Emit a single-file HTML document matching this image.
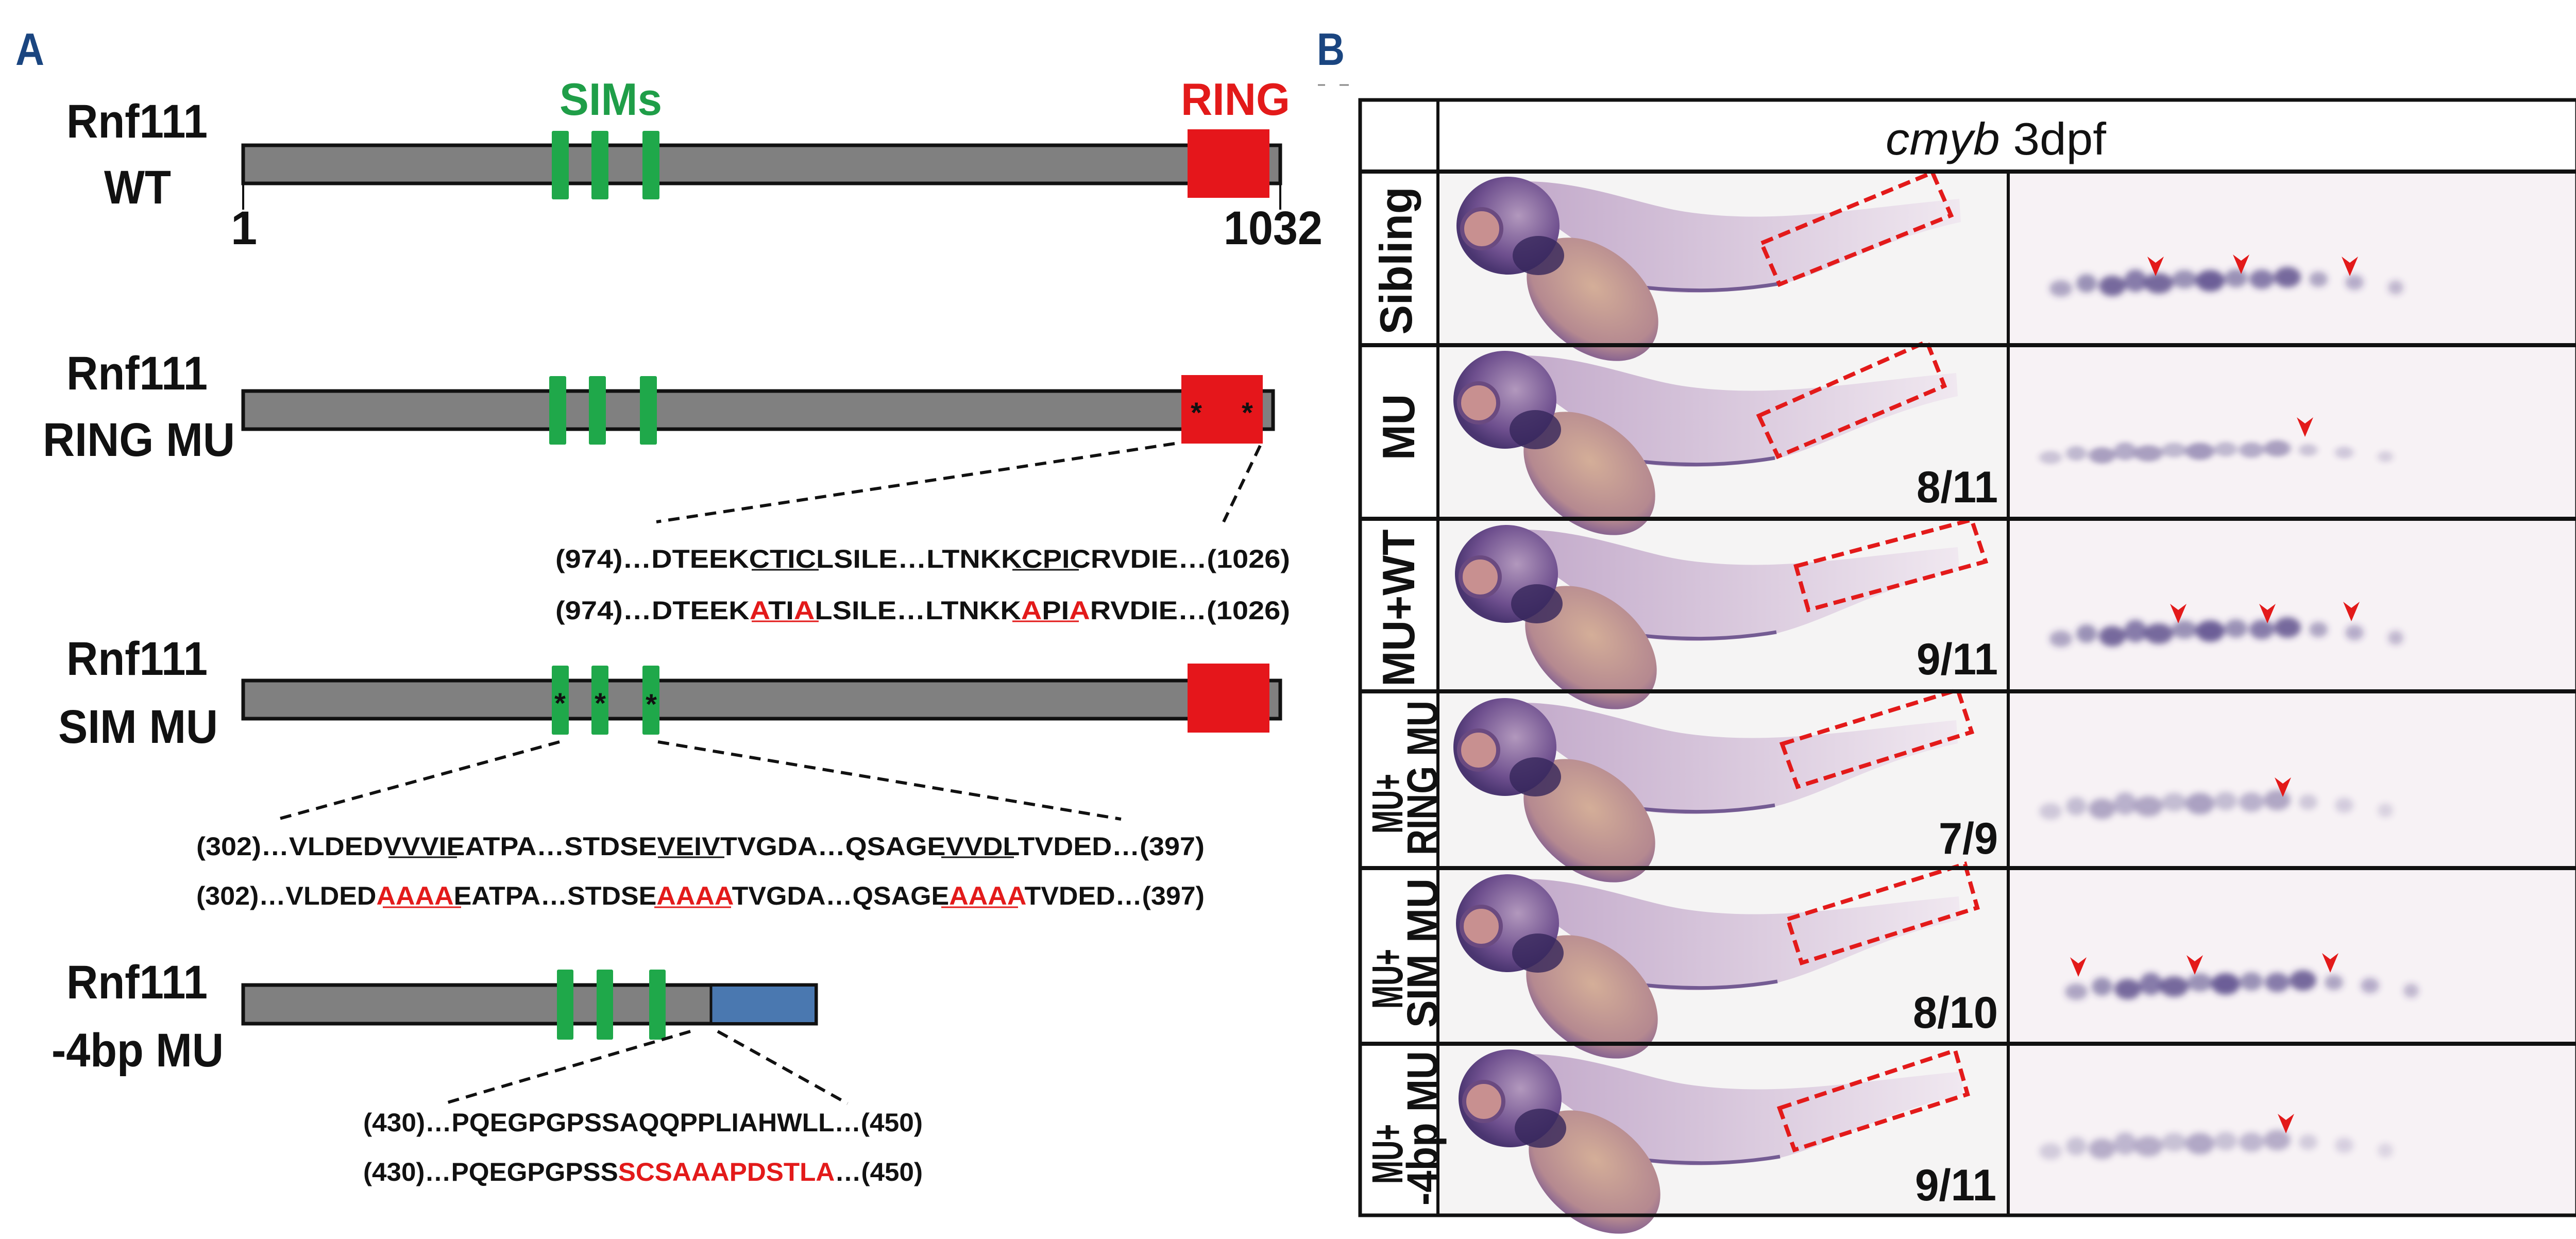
<!DOCTYPE html>
<html><head><meta charset="utf-8"><style>
html,body{margin:0;padding:0;background:#fff}
svg{display:block}
.b{font-family:"Liberation Sans",sans-serif;font-weight:bold}
.s{font-family:"Liberation Sans",sans-serif;font-size:50px;fill:#111;font-weight:bold}
</style></head><body>
<svg width="5037" height="2405" viewBox="0 0 5037 2405" xmlns="http://www.w3.org/2000/svg">
<defs>
<radialGradient id="hg" cx="0.6" cy="0.4" r="0.6"><stop offset="0" stop-color="#b298bd"/><stop offset="0.7" stop-color="#6e4f8e"/><stop offset="1" stop-color="#4a3570"/></radialGradient>
<radialGradient id="yg" cx="0.45" cy="0.4" r="0.6"><stop offset="0" stop-color="#d4ae98"/><stop offset="0.8" stop-color="#b58990"/><stop offset="1" stop-color="#8a6590"/></radialGradient>
<linearGradient id="bg" x1="0" y1="0" x2="1" y2="0"><stop offset="0" stop-color="#c0a6c8"/><stop offset="1" stop-color="#f0e8f0"/></linearGradient>
<filter id="bl" x="-20%" y="-50%" width="140%" height="200%"><feGaussianBlur stdDeviation="6"/></filter>
<g id="fish">
<path d="M110 20 C250 0 380 60 480 75 C650 100 800 70 1012 50 L1015 95 C850 130 750 200 640 222 C540 235 460 235 400 225 Z" fill="url(#bg)"/>
<path d="M400 222 C500 232 580 228 660 215" fill="none" stroke="#5a4080" stroke-width="7" opacity="0.8"/>
<ellipse cx="300" cy="245" rx="145" ry="98" transform="rotate(40 300 245)" fill="url(#yg)"/>
<ellipse cx="136" cy="102" rx="100" ry="95" fill="url(#hg)"/>
<ellipse cx="195" cy="160" rx="50" ry="38" fill="#35265a" opacity="0.8"/>
<circle cx="85" cy="108" r="38" fill="#c89090" stroke="#6a4a80" stroke-width="8"/>
</g>
<g id="dots" fill="#3e2f78" filter="url(#bl)">
<ellipse cx="40" cy="10" rx="22" ry="16" opacity=".4"/><ellipse cx="90" cy="0" rx="20" ry="18" opacity=".5"/>
<ellipse cx="140" cy="5" rx="26" ry="20" opacity=".7"/><ellipse cx="185" cy="-5" rx="22" ry="22" opacity=".6"/>
<ellipse cx="230" cy="0" rx="28" ry="20" opacity=".7"/><ellipse cx="280" cy="-8" rx="24" ry="18" opacity=".5"/>
<ellipse cx="330" cy="-5" rx="28" ry="21" opacity=".75"/><ellipse cx="380" cy="-10" rx="22" ry="18" opacity=".5"/>
<ellipse cx="430" cy="-8" rx="24" ry="19" opacity=".6"/><ellipse cx="480" cy="-12" rx="26" ry="20" opacity=".7"/>
<ellipse cx="540" cy="-8" rx="18" ry="15" opacity=".4"/><ellipse cx="610" cy="-2" rx="18" ry="15" opacity=".35"/>
<ellipse cx="690" cy="8" rx="15" ry="14" opacity=".3"/>
</g>
<path id="arr" d="M-16 -38 L0 -26 L16 -38 L0 0 Z" fill="#e31a1a"/>
</defs>

<!-- Panel A -->
<text x="30" y="126" class="b" font-size="88" fill="#1a4580" textLength="56" lengthAdjust="spacingAndGlyphs">A</text>
<text x="1086" y="223" class="b" font-size="88" fill="#1f9e48" textLength="199" lengthAdjust="spacingAndGlyphs">SIMs</text>
<text x="2292" y="223" class="b" font-size="88" fill="#e31a1a" textLength="212" lengthAdjust="spacingAndGlyphs">RING</text>

<g class="b" font-size="92" fill="#111">
<text x="129" y="267" textLength="274" lengthAdjust="spacingAndGlyphs">Rnf111</text>
<text x="202" y="395" textLength="130" lengthAdjust="spacingAndGlyphs">WT</text>
<text x="129" y="756" textLength="274" lengthAdjust="spacingAndGlyphs">Rnf111</text>
<text x="83" y="885" textLength="373" lengthAdjust="spacingAndGlyphs">RING MU</text>
<text x="129" y="1310" textLength="274" lengthAdjust="spacingAndGlyphs">Rnf111</text>
<text x="113" y="1442" textLength="310" lengthAdjust="spacingAndGlyphs">SIM MU</text>
<text x="129" y="1938" textLength="274" lengthAdjust="spacingAndGlyphs">Rnf111</text>
<text x="100" y="2070" textLength="334" lengthAdjust="spacingAndGlyphs">-4bp MU</text>
<text x="448" y="474">1</text>
<text x="2375" y="474" textLength="192" lengthAdjust="spacingAndGlyphs">1032</text>
</g>

<!-- WT -->
<line x1="472" y1="359" x2="472" y2="407" stroke="#111" stroke-width="4"/>
<line x1="2485" y1="359" x2="2485" y2="407" stroke="#111" stroke-width="4"/>
<rect x="472" y="282" width="2013" height="74" fill="#808080" stroke="#111" stroke-width="7"/>
<g fill="#1fa84a"><rect x="1071" y="254" width="33" height="133" rx="3"/><rect x="1148" y="254" width="33" height="133" rx="3"/><rect x="1247" y="254" width="33" height="133" rx="3"/></g>
<rect x="2305" y="251" width="159" height="133" fill="#e5161b"/>

<!-- RING MU -->
<rect x="472" y="759" width="1999" height="74" fill="#808080" stroke="#111" stroke-width="7"/>
<g fill="#1fa84a"><rect x="1066" y="730" width="33" height="133" rx="3"/><rect x="1143" y="730" width="33" height="133" rx="3"/><rect x="1242" y="730" width="33" height="133" rx="3"/></g>
<rect x="2293" y="728" width="158" height="133" fill="#e5161b"/>
<text x="2322" y="820" class="b" font-size="56" text-anchor="middle" fill="#111">*</text>
<text x="2421" y="820" class="b" font-size="56" text-anchor="middle" fill="#111">*</text>
<g stroke="#111" stroke-width="6" stroke-dasharray="22 14">
<line x1="2280" y1="861" x2="1274" y2="1013"/><line x1="2446" y1="865" x2="2375" y2="1013"/>
</g>
<text x="1078" y="1102" class="s" textLength="1426" lengthAdjust="spacingAndGlyphs">(974)…DTEEKCTICLSILE…LTNKKCPICRVDIE…(1026)</text>
<line x1="1459" y1="1106" x2="1589" y2="1106" stroke="#111" stroke-width="3"/>
<line x1="1965" y1="1106" x2="2094" y2="1106" stroke="#111" stroke-width="3"/>
<text x="1078" y="1202" class="s" textLength="1426" lengthAdjust="spacingAndGlyphs">(974)…DTEEK<tspan fill="#e31a1a">A</tspan>TI<tspan fill="#e31a1a">A</tspan>LSILE…LTNKK<tspan fill="#e31a1a">A</tspan>PI<tspan fill="#e31a1a">A</tspan>RVDIE…(1026)</text>
<line x1="1459" y1="1206" x2="1589" y2="1206" stroke="#e31a1a" stroke-width="3"/>
<line x1="1965" y1="1206" x2="2094" y2="1206" stroke="#e31a1a" stroke-width="3"/>

<!-- SIM MU -->
<rect x="472" y="1321" width="2013" height="74" fill="#808080" stroke="#111" stroke-width="7"/>
<g fill="#1fa84a"><rect x="1071" y="1292" width="33" height="134" rx="3"/><rect x="1148" y="1292" width="33" height="134" rx="3"/><rect x="1247" y="1292" width="33" height="134" rx="3"/></g>
<rect x="2305" y="1288" width="159" height="134" fill="#e5161b"/>
<g class="b" font-size="56" text-anchor="middle" fill="#111"><text x="1087" y="1384">*</text><text x="1165" y="1384">*</text><text x="1264" y="1386">*</text></g>
<g stroke="#111" stroke-width="6" stroke-dasharray="22 14">
<line x1="1086" y1="1440" x2="539" y2="1590"/><line x1="1277" y1="1440" x2="2176" y2="1590"/>
</g>
<text x="381" y="1660" class="s" textLength="1957" lengthAdjust="spacingAndGlyphs">(302)…VLDEDVVVIEATPA…STDSEVEIVTVGDA…QSAGEVVDLTVDED…(397)</text>
<g stroke="#111" stroke-width="3"><line x1="754" y1="1664" x2="887" y2="1664"/><line x1="1277" y1="1664" x2="1406" y2="1664"/><line x1="1827" y1="1664" x2="1968" y2="1664"/></g>
<text x="381" y="1756" class="s" textLength="1957" lengthAdjust="spacingAndGlyphs">(302)…VLDED<tspan fill="#e31a1a">AAAA</tspan>EATPA…STDSE<tspan fill="#e31a1a">AAAA</tspan>TVGDA…QSAGE<tspan fill="#e31a1a">AAAA</tspan>TVDED…(397)</text>
<g stroke="#e31a1a" stroke-width="3"><line x1="743" y1="1761" x2="895" y2="1761"/><line x1="1270" y1="1761" x2="1419" y2="1761"/><line x1="1827" y1="1761" x2="1976" y2="1761"/></g>

<!-- -4bp MU -->
<rect x="472" y="1912" width="1112" height="75" fill="#808080" stroke="#111" stroke-width="7"/>
<rect x="1380" y="1915" width="201" height="69" fill="#4a78b0"/>
<line x1="1380" y1="1912" x2="1380" y2="1987" stroke="#111" stroke-width="5"/>
<g fill="#1fa84a"><rect x="1081" y="1882" width="32" height="136" rx="3"/><rect x="1158" y="1882" width="32" height="136" rx="3"/><rect x="1260" y="1882" width="32" height="136" rx="3"/></g>
<g stroke="#111" stroke-width="6" stroke-dasharray="22 14">
<line x1="1340" y1="2002" x2="862" y2="2142"/><line x1="1393" y1="2002" x2="1645" y2="2142"/>
</g>
<text x="705" y="2196" class="s" textLength="1086" lengthAdjust="spacingAndGlyphs">(430)…PQEGPGPSSAQQPPLIAHWLL…(450)</text>
<text x="705" y="2292" class="s" textLength="1086" lengthAdjust="spacingAndGlyphs">(430)…PQEGPGPSS<tspan fill="#e31a1a">SCSAAAPDSTLA</tspan>…(450)</text>

<!-- Panel B -->
<text x="2556" y="126" class="b" font-size="88" fill="#1a4580" textLength="54" lengthAdjust="spacingAndGlyphs">B</text>
<line x1="2558" y1="165" x2="2572" y2="165" stroke="#888" stroke-width="3"/><line x1="2600" y1="165" x2="2618" y2="165" stroke="#888" stroke-width="3"/>

<!-- cell backgrounds -->
<rect x="2791" y="333" width="1107" height="2029" fill="#f5f4f4"/>
<rect x="3898" y="333" width="1107" height="2029" fill="#f7f2f5"/>

<!-- fish rows -->
<use href="#fish" transform="translate(2791,336)"/>
<use href="#fish" transform="translate(2785,674)"/>
<use href="#fish" transform="translate(2788,1012)"/>
<use href="#fish" transform="translate(2785,1348)"/>
<use href="#fish" transform="translate(2790,1690)"/>
<use href="#fish" transform="translate(2795,2030)"/>

<!-- red dashed boxes -->
<g fill="none" stroke="#e31a1a" stroke-width="8" stroke-dasharray="24 12">
<polygon points="3419,472 3751,335 3787,418 3454,552"/>
<polygon points="3414,807 3740,663 3774,749 3451,886"/>
<polygon points="3486,1099 3827,1009 3854,1090 3510,1184"/>
<polygon points="3459,1444 3800,1339 3827,1421 3489,1527"/>
<polygon points="3470,1784 3814,1677 3838,1762 3497,1869"/>
<polygon points="3454,2151 3795,2039 3819,2124 3483,2232"/>
</g>

<!-- zoom dots -->
<use href="#dots" transform="translate(3960,550)"/>
<use href="#dots" transform="translate(3940,880) scale(1,0.8)" opacity="0.6"/>
<use href="#dots" transform="translate(3960,1230)"/>
<use href="#dots" transform="translate(3940,1565)" opacity="0.55"/>
<use href="#dots" transform="translate(3990,1915)"/>
<use href="#dots" transform="translate(3940,2225)" opacity="0.5"/>

<!-- arrows -->
<use href="#arr" x="4184" y="536"/><use href="#arr" x="4350" y="532"/><use href="#arr" x="4561" y="536"/>
<use href="#arr" x="4474" y="848"/>
<use href="#arr" x="4228" y="1210"/><use href="#arr" x="4401" y="1210"/><use href="#arr" x="4564" y="1206"/>
<use href="#arr" x="4431" y="1547"/>
<use href="#arr" x="4034" y="1896"/><use href="#arr" x="4260" y="1892"/><use href="#arr" x="4523" y="1888"/>
<use href="#arr" x="4437" y="2200"/>

<!-- ratios -->
<g class="b" font-size="86" fill="#111" text-anchor="end">
<text x="3878" y="975" textLength="158" lengthAdjust="spacingAndGlyphs">8/11</text>
<text x="3878" y="1309" textLength="158" lengthAdjust="spacingAndGlyphs">9/11</text>
<text x="3878" y="1657" textLength="115" lengthAdjust="spacingAndGlyphs">7/9</text>
<text x="3878" y="1995" textLength="165" lengthAdjust="spacingAndGlyphs">8/10</text>
<text x="3875" y="2330" textLength="158" lengthAdjust="spacingAndGlyphs">9/11</text>
</g>

<!-- header -->
<text x="3660" y="300" font-family="Liberation Sans,sans-serif" font-size="88" fill="#111" textLength="428" lengthAdjust="spacingAndGlyphs"><tspan font-style="italic">cmyb</tspan> 3dpf</text>

<!-- table lines -->
<g stroke="#111" fill="none">
<rect x="2640" y="194" width="2362" height="2165" stroke-width="7"/>
<line x1="2791" y1="194" x2="2791" y2="2359" stroke-width="6"/>
<line x1="3898" y1="333" x2="3898" y2="2359" stroke-width="6"/>
<line x1="2640" y1="333" x2="5002" y2="333" stroke-width="8"/>
<line x1="2640" y1="670" x2="5002" y2="670" stroke-width="8"/>
<line x1="2640" y1="1007" x2="5002" y2="1007" stroke-width="8"/>
<line x1="2640" y1="1342" x2="5002" y2="1342" stroke-width="8"/>
<line x1="2640" y1="1685" x2="5002" y2="1685" stroke-width="8"/>
<line x1="2640" y1="2026" x2="5002" y2="2026" stroke-width="8"/>
</g>

<!-- row labels -->
<g class="b" fill="#111" text-anchor="middle">
<text transform="translate(2740,506) rotate(-90)" font-size="88" textLength="287" lengthAdjust="spacingAndGlyphs">Sibling</text>
<text transform="translate(2745,829) rotate(-90)" font-size="88" textLength="128" lengthAdjust="spacingAndGlyphs">MU</text>
<text transform="translate(2745,1180) rotate(-90)" font-size="88" textLength="305" lengthAdjust="spacingAndGlyphs">MU+WT</text>
<text transform="translate(2722,1560) rotate(-90)" font-size="84" textLength="116" lengthAdjust="spacingAndGlyphs">MU+</text>
<text transform="translate(2790,1510) rotate(-90)" font-size="84" textLength="300" lengthAdjust="spacingAndGlyphs">RING MU</text>
<text transform="translate(2722,1900) rotate(-90)" font-size="84" textLength="116" lengthAdjust="spacingAndGlyphs">MU+</text>
<text transform="translate(2790,1850) rotate(-90)" font-size="84" textLength="290" lengthAdjust="spacingAndGlyphs">SIM MU</text>
<text transform="translate(2722,2240) rotate(-90)" font-size="84" textLength="116" lengthAdjust="spacingAndGlyphs">MU+</text>
<text transform="translate(2790,2190) rotate(-90)" font-size="84" textLength="300" lengthAdjust="spacingAndGlyphs">-4bp MU</text>
</g>
</svg>
</body></html>
